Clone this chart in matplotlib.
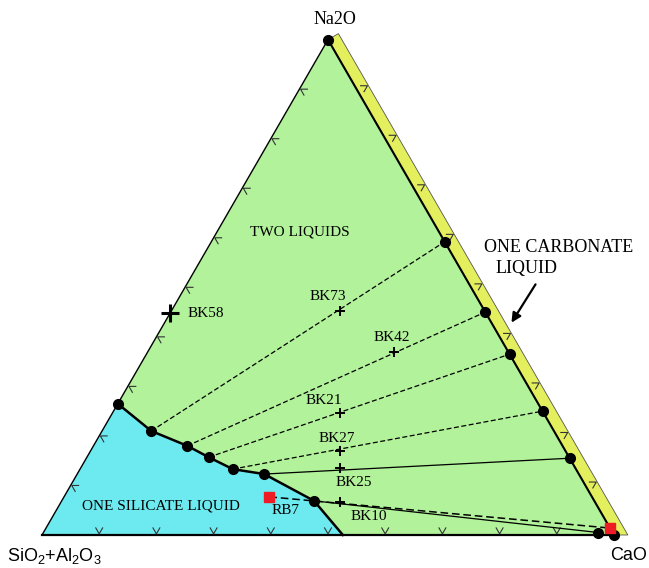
import numpy as np
import matplotlib.pyplot as plt

plt.rcParams['mathtext.default'] = 'regular'

# compositions in wt% (Na2O, CaO); SiO2+Al2O3 is the remainder
binodal_na = [26.5, 21.0, 18.0, 15.7, 13.3, 12.3, 6.9, 0.0]
binodal_ca = [0.0, 8.6, 16.4, 21.3, 26.7, 32.7, 44.1, 52.6]

carb_na = [59.2, 45.0, 36.5, 25.0, 15.5, 0.5]
carb_ca = [40.8, 55.0, 63.5, 75.0, 84.5, 97.0]

# tie lines: silicate end (binodal index) -> carbonate end (carb index)
tie_sil = [1, 2, 3, 4, 5, 6]
tie_carb = [0, 1, 2, 3, 4, 5]
tie_dashed = [True, True, True, True, False, False]

samples = ["BK58", "BK73", "BK42", "BK21", "BK27", "BK25", "BK10"]
sample_na = [44.8, 45.2, 36.9, 24.6, 17.0, 13.5, 6.7]
sample_ca = [0.0, 29.5, 43.1, 39.8, 43.6, 45.3, 48.8]

rb7_na, rb7_ca = 7.7, 35.9
rb7_carb_na, rb7_carb_ca = 1.4, 98.6

H = np.sqrt(3) / 2
green = "#b1f29a"
cyan = "#6ceaf0"
yellow = "#e3ef5c"
serif = "Liberation Serif"
sans = "Liberation Sans"


def tern(na, ca):
    na = np.asarray(na, dtype=float) / 100
    ca = np.asarray(ca, dtype=float) / 100
    return ca + na / 2, na * H


fig = plt.figure(figsize=(6.49, 5.68), dpi=100)
ax = fig.add_axes([0, 0, 1, 1])
ax.set_xlim(-42 / 572, 607 / 572)
ax.set_ylim(-33 / 572, 535 / 572)
ax.axis('off')

# fields
ax.fill([0, 1, 0.5], [0, 0, H], color=green, zorder=1, lw=0)
bx, by = tern(binodal_na, binodal_ca)
ax.fill(np.r_[0, bx], np.r_[0, by], color=cyan, zorder=2, lw=0)

# carbonate liquid band outside the CaO-Na2O edge
p = 0.021
band_x = [0.5, 0.5 + p * 0.866, 1 + 1.1547 * p, 1]
band_y = [H, H + p * 0.5, 0, 0]
ax.fill(band_x, band_y, facecolor=yellow, edgecolor="#555555", lw=0.6, zorder=2)

# triangle edges
ax.plot([0, 0.5], [0, H], color="k", lw=1.0, zorder=4)
ax.plot([0, 1], [0, 0], color="k", lw=1.6, zorder=4)
ax.plot([0.5, 1], [H, 0], color="k", lw=1.5, zorder=4)

# chevron ticks every 10 %
L = 0.012
def chevron(x0, y0, a1, a2):
    a1, a2 = np.radians(a1), np.radians(a2)
    ax.plot([x0 + L * np.cos(a1), x0, x0 + L * np.cos(a2)],
            [y0 + L * np.sin(a1), y0, y0 + L * np.sin(a2)],
            color="#333333", lw=0.8, zorder=4)

for t in np.arange(1, 10) / 10:
    chevron(t, 0.002, 60, 120)
    chevron(0.5 * t + 0.002, H * t, 0, -60)
    chevron(1 - 0.5 * t + 0.019, H * t + 0.006, 180, 240)

# binodal
ax.plot(bx, by, color="k", lw=1.8, zorder=5)

# tie lines
cx, cy = tern(carb_na, carb_ca)
for i, j, d in zip(tie_sil, tie_carb, tie_dashed):
    ax.plot([bx[i], cx[j]], [by[i], cy[j]], color="k", lw=0.9,
            ls=(0, (4, 2)) if d else "-", zorder=5)

rx, ry = tern([rb7_na, rb7_carb_na], [rb7_ca, rb7_carb_ca])
ax.plot(rx, ry, color="k", lw=1.1, ls=(0, (5, 2.5)), zorder=5)

# conjugate liquids
ax.plot(bx[:-1], by[:-1], "o", color="k", ms=7, zorder=6)
ax.plot(cx, cy, "o", color="k", ms=7, zorder=6)
vx, vy = tern([100, 0], [0, 100])
ax.plot(vx, vy, "o", color="k", ms=7, zorder=6)
ax.plot(rx, ry, "s", color="#ee1c24", ms=6.5, zorder=7)

# bulk compositions
sx, sy = tern(sample_na, sample_ca)
ax.plot(sx[1:], sy[1:], "+", color="k", ms=7, mew=1.4, zorder=7)
ax.plot(sx[0], sy[0], "+", color="k", ms=13, mew=2.2, zorder=7)

offsets = [(17, 0), (-12, 15), (-2, 15), (-16, 13), (-3, 12), (14, -14), (28, -15)]
for name, x0, y0, off in zip(samples, sx, sy, offsets):
    ax.annotate(name, (x0, y0), xytext=off, textcoords="offset pixels",
                ha="left" if name == "BK58" else "center", va="center",
                fontsize=11, family=serif, zorder=8)
ax.annotate("RB7", (rx[0], ry[0]), xytext=(16, -14), textcoords="offset pixels",
            ha="center", va="center", fontsize=11, family=serif, zorder=8)


def fpos(px, py):
    return px / 649, 1 - py / 568


fig.text(*fpos(335, 19), "Na2O", ha="center", va="center", fontsize=13, family=serif)
fig.text(*fpos(7, 556), "SiO$_2$+Al$_2$O$_3$", ha="left", va="center", fontsize=13, family=sans)
fig.text(*fpos(629, 555), "CaO", ha="center", va="center", fontsize=13, family=sans)
fig.text(*fpos(300, 232), "TWO LIQUIDS", ha="center", va="center", fontsize=11, family=serif)
fig.text(*fpos(161, 506), "ONE SILICATE LIQUID", ha="center", va="center", fontsize=11, family=serif)
fig.text(*fpos(484, 247), "ONE CARBONATE", ha="left", va="center", fontsize=13, family=serif)
fig.text(*fpos(496, 269), "LIQUID", ha="left", va="center", fontsize=13, family=serif)

ax.annotate("", xy=((510 - 42) / 572, (535 - 325) / 572),
            xytext=((537 - 42) / 572, (535 - 282) / 572),
            arrowprops=dict(arrowstyle="-|>", color="k", lw=1.6, mutation_scale=14),
            zorder=9)

fig.savefig("out.png", dpi=100)
